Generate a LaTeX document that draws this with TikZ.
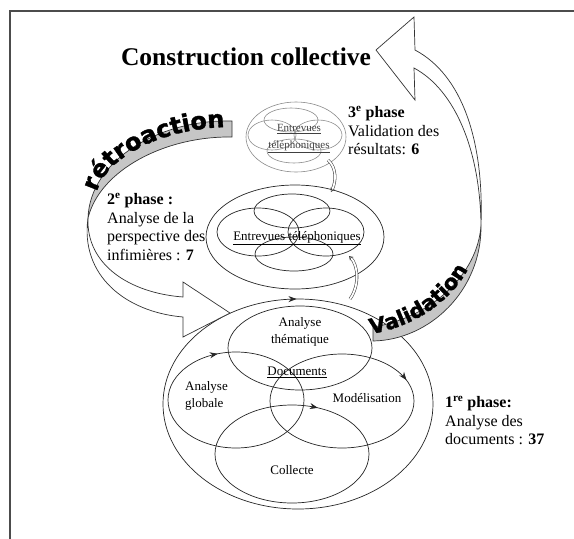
\documentclass[tikz,border=0pt]{standalone}
\usepackage{fontspec}
\setmainfont{Liberation Serif}
\newfontfamily\arrowfont{DejaVu Sans}[BoldFeatures={FakeBold=1.5}]
\usetikzlibrary{decorations.text,decorations.markings,arrows.meta}
\begin{document}
\begin{tikzpicture}[x=1pt,y=-1pt,
  ell/.style={draw=black!85, line width=0.7pt},
  ellg/.style={draw=black!45, line width=0.6pt},
  band/.style={fill=gray!45, draw=black!80, line width=0.7pt},
  wband/.style={fill=white, draw=black!80, line width=0.7pt},
  lbl/.style={inner sep=0pt, align=left, anchor=north west, font=\fontsize{16}{18.5}\selectfont},
  intext/.style={inner sep=0pt, font=\fontsize{13}{17}\selectfont},
  conn/.style={draw=black!75, double=white, double distance=1.8pt, line width=0.55pt, -{Stealth[open,length=4pt,width=5pt]}}
]
\useasboundingbox (0,0) rectangle (574,539);
\fill[white] (0,0) rectangle (574,539);
% frame
\draw[black!70, line width=1.2pt] (10,539) -- (10,11) -- (574,11);
% title
\node[font=\bfseries\fontsize{25.5}{28}\selectfont, anchor=base, inner sep=0pt] (title) at (246,65) {Construction collective};

% ---------- phase 1 ----------
\draw[ell, postaction={decorate}, decoration={markings, mark=at position 0.252 with {\arrowreversed{Stealth[length=8pt,width=6pt]}}}] (298,404) ellipse [x radius=135pt, y radius=105pt];
\draw[ell] (300,348) ellipse [x radius=72pt, y radius=42pt];
\draw[ell, postaction={decorate}, decoration={markings, mark=at position 0.30 with {\arrowreversed{Stealth[length=8pt,width=6pt]}}}] (236,400) ellipse [x radius=68pt, y radius=48pt];
\draw[ell, postaction={decorate}, decoration={markings, mark=at position 0.06 with {\arrowreversed{Stealth[length=8pt,width=6pt]}}}] (342,401) ellipse [x radius=72pt, y radius=47pt];
\draw[ell, postaction={decorate}, decoration={markings, mark=at position 0.185 with {\arrowreversed{Stealth[length=8pt,width=6pt]}}}] (292,454) ellipse [x radius=77pt, y radius=49pt];

\node[intext, align=center] (them) at (300,332) {Analyse\\thématique};
\node[intext] (docs) at (297,372) {\underline{Documents}};
\node[intext, align=left, anchor=west] (glob) at (185,396) {Analyse\\globale};
\node[intext] (model) at (367,398) {Modélisation};
\node[intext] (coll) at (292,470) {Collecte};

% ---------- phase 2 ----------
\draw[ell] (295,237) ellipse [x radius=89pt, y radius=52pt];
\draw[ell] (292,211) ellipse [x radius=38pt, y radius=17pt];
\draw[ell] (294,254) ellipse [x radius=39pt, y radius=17pt];
\draw[ell] (258,232) ellipse [x radius=41pt, y radius=24pt];
\draw[ell] (326,232) ellipse [x radius=38pt, y radius=24pt];
\node[intext] (p2t) at (297,238) {\underline{Entrevues téléphoniques}};

% ---------- phase 3 ----------
\draw[ellg] (296,137) ellipse [x radius=50pt, y radius=35pt];
\draw[ellg] (291,120) ellipse [x radius=27pt, y radius=12pt];
\draw[ellg] (294,151) ellipse [x radius=27pt, y radius=12pt];
\draw[ellg] (272,135) ellipse [x radius=24pt, y radius=15pt];
\draw[ellg] (318,135) ellipse [x radius=24pt, y radius=15pt];
\node[inner sep=0pt, font=\fontsize{11}{17}\selectfont, text=black!75, align=center] (p3t) at (299,139) {\underline{Entrevues}\\\underline{téléphoniques}};

% ---------- connectors ----------
\coordinate (k1s) at (350,299);
\coordinate (k1e) at (349,256);
\draw[conn] (k1s) .. controls (360,285) and (358,265) .. (k1e);
\coordinate (k2s) at (328,160);
\coordinate (k2e) at (331,192);
\draw[conn] (k2s) .. controls (337,168) and (336,182) .. (k2e);

% ---------- labels ----------
\node[lbl] (l1) at (445,396) {\textbf{1\textsuperscript{re} phase:}\\Analyse des\\documents : \textbf{37}};
\node[lbl] (l2) at (107,193) {\textbf{2\textsuperscript{e} phase :}\\Analyse de la\\perspective des\\infimières : \textbf{7}};
\node[lbl] (l3) at (348,106) {\textbf{3\textsuperscript{e} phase}\\Validation des\\résultats: \textbf{6}};

% ---------- retroaction arrow ----------
\filldraw[band] (232,121) .. controls (160,119) and (90,160) .. (88,218) .. controls (100,170) and (165,136) .. (232,137) -- cycle;
\filldraw[wband] (88,218) .. controls (86,265) and (130,293) .. (183,297) -- (183,282) -- (230,313) -- (183,337) -- (183,317) .. controls (125,312) and (80,275) .. (88,218) -- cycle;
\path[decorate, decoration={text along path, text align=left, text={|\arrowfont\bfseries\fontsize{24}{24}\selectfont|rétroaction}}] (97,192) .. controls (104,160) and (160,127) .. (232,127);

% ---------- validation arrow ----------
\filldraw[band] (481,225) .. controls (478,275) and (430,318) .. (373,327) -- (373,341) .. controls (430,340) and (482,290) .. (481,225) -- cycle;
\filldraw[wband] (481,225) .. controls (484,140) and (462,75) .. (415,50) -- (414,17) -- (376,50) -- (415,100) -- (414,68) .. controls (455,90) and (480,150) .. (481,225) -- cycle;
\path[decorate, decoration={text along path, text align=left, text={|\arrowfont\bfseries\fontsize{21}{21}\selectfont|Validation}}] (371,334) .. controls (430,324) and (474,282) .. (478,236);
\end{tikzpicture}
\end{document}
